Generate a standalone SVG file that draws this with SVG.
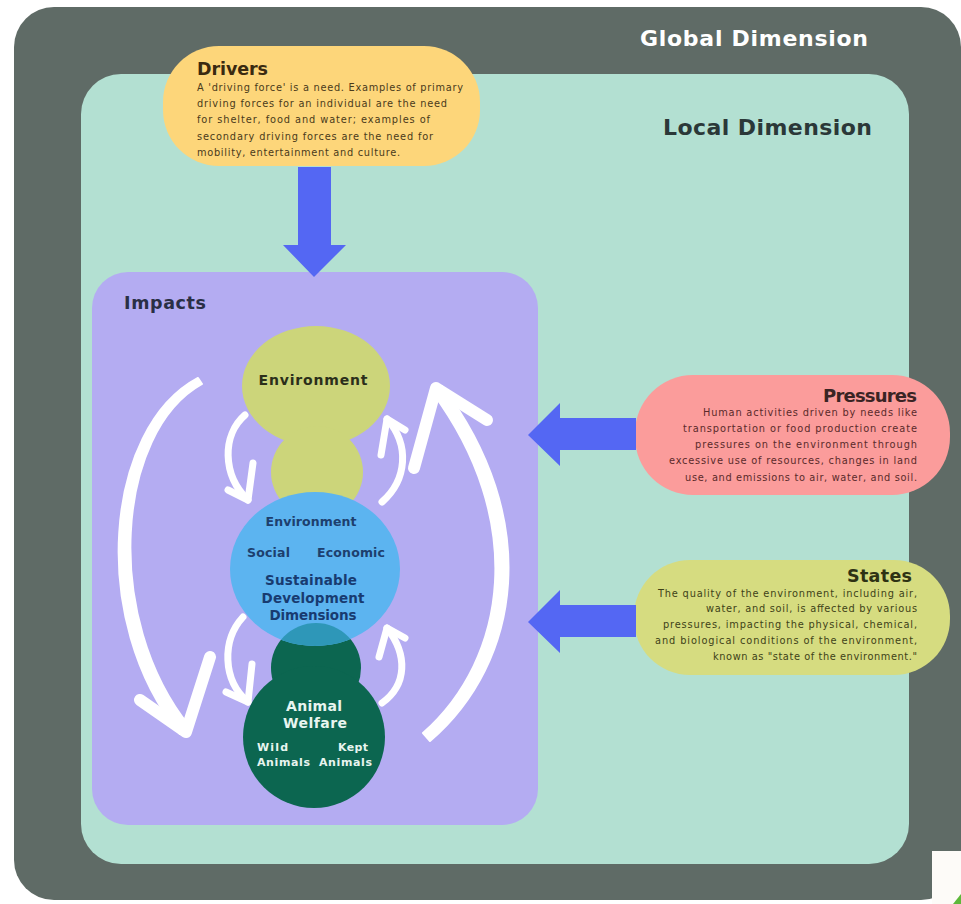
<svg xmlns="http://www.w3.org/2000/svg" width="961" height="904" viewBox="0 0 961 904">
<style>
.title{font-family:"DejaVu Sans","Liberation Sans",sans-serif;font-weight:700}
.body{font-family:"DejaVu Sans","Liberation Sans",sans-serif;font-size:9.8px}
.warrow{fill:none;stroke:#ffffff;stroke-linecap:round;stroke-linejoin:round}
.wfill{fill:#ffffff;stroke:#ffffff;stroke-width:2;stroke-linejoin:round}
.barrow{fill:#5467f3}
</style>
<defs>
<clipPath id="clipGreenSmall"><circle cx="316" cy="668" r="45"/></clipPath>
</defs>
<rect width="961" height="904" fill="#ffffff"/>
<g id="global-dimension">
<rect x="14" y="7" width="947" height="893" rx="40" fill="#5f6b66"/>
<text class="title" x="868" y="46" font-size="22" fill="#ffffff" text-anchor="end" textLength="228">Global Dimension</text>
</g>
<g id="local-dimension">
<rect x="81" y="74" width="828" height="790" rx="40" fill="#b3e0d2"/>
<text class="title" x="872" y="135" font-size="22" fill="#2b3838" text-anchor="end" textLength="209">Local Dimension</text>
</g>
<g id="impacts">
<rect x="92" y="272" width="446" height="553" rx="36" fill="#b4acf2"/>
<text class="title" x="124" y="309" font-size="17.5" fill="#2a2f45" textLength="82">Impacts</text>
</g>
<g id="node-environment">
<ellipse cx="316" cy="386" rx="74" ry="60" fill="#ccd57a"/>
<circle cx="317" cy="472" r="46" fill="#ccd57a"/>
<text class="title" x="313" y="385" font-size="14" fill="#2b2f1a" text-anchor="middle" textLength="109">Environment</text>
</g>
<g id="node-animal-welfare">
<circle cx="316" cy="668" r="45" fill="#0c6650"/>
<circle cx="314" cy="737" r="71" fill="#0c6650"/>
<text class="title" x="314" y="711" font-size="14" fill="#e8f5ef" text-anchor="middle" textLength="56">Animal</text>
<text class="title" x="315" y="728" font-size="14" fill="#e8f5ef" text-anchor="middle" textLength="64">Welfare</text>
<text class="title" x="257" y="751" font-size="11" fill="#e8f5ef" textLength="31">Wild</text>
<text class="title" x="257" y="766" font-size="11" fill="#e8f5ef" textLength="53">Animals</text>
<text class="title" x="368" y="751" font-size="11" fill="#e8f5ef" text-anchor="end" textLength="30">Kept</text>
<text class="title" x="372" y="766" font-size="11" fill="#e8f5ef" text-anchor="end" textLength="53">Animals</text>
</g>
<g id="node-sdd">
<ellipse cx="315" cy="569" rx="85" ry="77" fill="#5cb4f0"/>
<ellipse cx="315" cy="569" rx="85" ry="77" fill="#2e97b8" clip-path="url(#clipGreenSmall)"/>
<text class="title" x="311" y="526" font-size="12.5" fill="#1d3f6e" text-anchor="middle" textLength="91" style="font-weight:600">Environment</text>
<text class="title" x="247" y="557" font-size="12.5" fill="#1d3f6e" textLength="43" style="font-weight:600">Social</text>
<text class="title" x="317" y="557" font-size="12.5" fill="#1d3f6e" textLength="68" style="font-weight:600">Economic</text>
<text class="title" x="311" y="585" font-size="13.5" fill="#183b70" text-anchor="middle" textLength="92">Sustainable</text>
<text class="title" x="313" y="603" font-size="13.5" fill="#183b70" text-anchor="middle" textLength="103">Development</text>
<text class="title" x="313" y="620" font-size="13.5" fill="#183b70" text-anchor="middle" textLength="87">Dimensions</text>
</g>
<g id="node-drivers">
<rect x="163" y="46" width="317" height="120" rx="56" fill="#fdd67a"/>
<text class="title" x="197" y="75" font-size="17.5" fill="#3a2a10" textLength="71">Drivers</text>
<text class="body" x="197" y="91" fill="#4a3a1a" textLength="266">A 'driving force' is a need. Examples of primary</text>
<text class="body" x="197" y="107" fill="#4a3a1a" textLength="250">driving forces for an individual are the need</text>
<text class="body" x="197" y="123" fill="#4a3a1a" textLength="233">for shelter, food and water; examples of</text>
<text class="body" x="197" y="140" fill="#4a3a1a" textLength="236">secondary driving forces are the need for</text>
<text class="body" x="197" y="156" fill="#4a3a1a" textLength="203">mobility, entertainment and culture.</text>
</g>
<g id="node-pressures">
<rect x="635" y="375" width="315" height="120" rx="58" fill="#fb9c9b"/>
<text class="title" x="917" y="402" font-size="18" fill="#3a2424" text-anchor="end" textLength="94">Pressures</text>
<text class="body" x="917" y="416" fill="#5a2a2a" text-anchor="end" textLength="214">Human activities driven by needs like</text>
<text class="body" x="917" y="432" fill="#5a2a2a" text-anchor="end" textLength="234">transportation or food production create</text>
<text class="body" x="917" y="448" fill="#5a2a2a" text-anchor="end" textLength="222">pressures on the environment through</text>
<text class="body" x="917" y="464" fill="#5a2a2a" text-anchor="end" textLength="248">excessive use of resources, changes in land</text>
<text class="body" x="917" y="481" fill="#5a2a2a" text-anchor="end" textLength="232">use, and emissions to air, water, and soil.</text>
</g>
<g id="node-states">
<rect x="634" y="560" width="316" height="115" rx="56" fill="#d6dc80"/>
<text class="title" x="912" y="582" font-size="17.5" fill="#2e3214" text-anchor="end" textLength="65">States</text>
<text class="body" x="917" y="597" fill="#3e4218" text-anchor="end" textLength="259">The quality of the environment, including air,</text>
<text class="body" x="917" y="612" fill="#3e4218" text-anchor="end" textLength="211">water, and soil, is affected by various</text>
<text class="body" x="917" y="628" fill="#3e4218" text-anchor="end" textLength="254">pressures, impacting the physical, chemical,</text>
<text class="body" x="917" y="644" fill="#3e4218" text-anchor="end" textLength="262">and biological conditions of the environment,</text>
<text class="body" x="917" y="660" fill="#3e4218" text-anchor="end" textLength="204">known as "state of the environment."</text>
</g>
<g id="connectors">
<polygon class="barrow" points="298,167 331,167 331,245 346,245 314,277 283,245 298,245"/>
<polygon class="barrow" points="636,418 560,418 560,403 528,435 560,466 560,450 636,450"/>
<polygon class="barrow" points="636,605 560,605 560,590 528,622 560,653 560,637 636,637"/>
<path class="wfill" d="M198,378 C104,428 88,622 180,734 L190,727 C102,618 116,432 202,384 Z"/>
<path class="warrow" stroke-width="12" d="M140,700 L186,732 L210,657"/>
<path class="wfill" d="M430,741 C522,662 542,518 442,386 L432,392 C527,520 508,658 423,733 Z"/>
<path class="warrow" stroke-width="12" d="M414,468 L436,388 L487,420"/>
<path class="warrow" stroke-width="7" d="M245,415 C222,435 222,475 248,500"/>
<path class="warrow" stroke-width="7" d="M228,490 L248,500 L253,463"/>
<path class="warrow" stroke-width="7" d="M382,502 C407,480 410,445 387,419"/>
<path class="warrow" stroke-width="7" d="M381,455 L387,419 L405,430"/>
<path class="warrow" stroke-width="7" d="M243,617 C222,640 222,680 248,702"/>
<path class="warrow" stroke-width="7" d="M226,692 L248,702 L252,664"/>
<path class="warrow" stroke-width="7" d="M382,703 C407,685 408,655 387,628"/>
<path class="warrow" stroke-width="7" d="M379,657 L387,628 L405,638"/>
</g>
<g id="corner-fragment">
<rect x="932" y="851" width="29" height="53" fill="#fdfbf8"/>
<path d="M953,904 L961,894 L961,904 Z" fill="#5db83a"/>
</g>
</svg>
